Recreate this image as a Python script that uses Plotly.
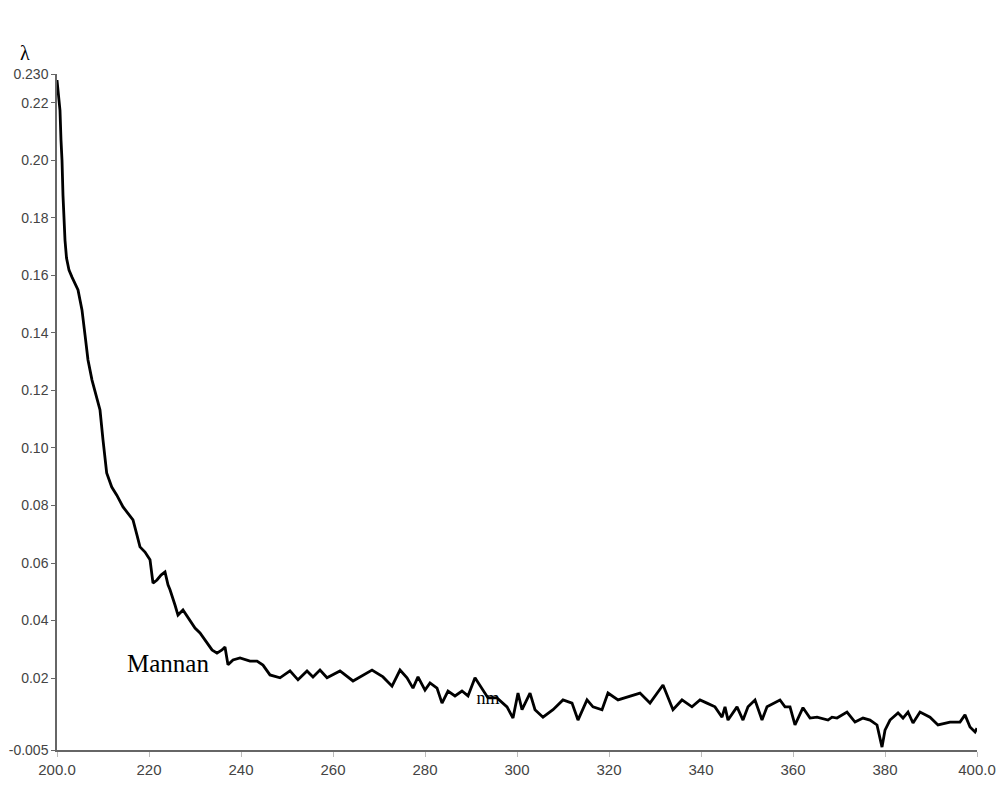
import plotly.graph_objects as go

# wavelength (nm)
wavelength = [
    200.0, 200.22, 200.43, 200.65, 200.87, 201.09, 201.30, 201.52, 201.74, 202.07,
    202.61, 203.26, 203.91, 204.57, 205.0, 205.43, 206.09, 206.74, 207.61, 208.48,
    209.35, 210.0, 210.8, 211.9, 213.0, 214.35, 215.43, 216.52, 217.39, 218.04,
    219.13, 220.22, 220.87, 221.74, 222.61, 223.48, 224.13, 224.57, 225.65, 226.30,
    227.39, 228.91, 230.0, 231.09, 232.61, 233.70, 234.78, 235.87, 236.52, 237.17,
    238.26, 239.78, 241.96, 243.48, 244.78, 246.30, 248.48, 250.65, 252.39, 254.35,
    255.65, 257.17, 258.70, 261.52, 264.35, 265.87, 268.48, 270.87, 272.83, 274.57,
    276.09, 277.39, 278.48, 280.0, 281.09, 282.61, 283.70, 285.0, 286.52, 288.04,
    289.35, 290.87, 292.39, 293.70, 295.65, 297.83, 299.13, 300.22, 301.09, 302.83,
    303.91, 305.65, 307.83, 310.0, 311.96, 313.26, 315.22, 316.52, 318.48, 319.78,
    321.96, 324.57, 326.74, 328.91, 331.74, 333.91, 335.87, 338.04, 339.78, 341.30,
    343.04, 344.57, 345.22, 345.87, 347.83, 349.13, 350.22, 351.74, 353.26, 354.35,
    357.17, 358.26, 359.35, 360.43, 362.17, 363.70, 365.22, 367.61, 368.48, 369.57,
    371.74, 373.48, 375.22, 376.74, 378.26, 379.35, 380.0, 381.09, 382.83, 383.91,
    385.0, 386.09, 387.61, 389.78, 391.52, 394.13, 396.30, 397.39, 398.48, 399.57,
    400.0,
]

# absorbance
absorbance = [
    0.2279, 0.2244, 0.2209, 0.2174, 0.2070, 0.2000, 0.1879, 0.1792, 0.1722, 0.1660,
    0.1618, 0.1594, 0.1573, 0.1549, 0.1514, 0.1480, 0.1393, 0.1306, 0.1236, 0.1184,
    0.1132, 0.1028, 0.0913, 0.0864, 0.0836, 0.0795, 0.0774, 0.0750, 0.0697, 0.0656,
    0.0638, 0.0611, 0.0530, 0.0541, 0.0558, 0.0569, 0.0524, 0.0507, 0.0454, 0.0419,
    0.0437, 0.0402, 0.0374, 0.0357, 0.0322, 0.0298, 0.0287, 0.0298, 0.0308, 0.0246,
    0.0263, 0.0270, 0.0259, 0.0259, 0.0245, 0.0211, 0.0201, 0.0225, 0.0194, 0.0225,
    0.0204, 0.0228, 0.0201, 0.0225, 0.0190, 0.0204, 0.0228, 0.0204, 0.0172, 0.0228,
    0.0201, 0.0165, 0.0204, 0.0158, 0.0183, 0.0165, 0.0113, 0.0155, 0.0138, 0.0155,
    0.0138, 0.0201, 0.0165, 0.0131, 0.0131, 0.0100, 0.0061, 0.0148, 0.0090, 0.0148,
    0.0090, 0.0064, 0.0090, 0.0124, 0.0113, 0.0054, 0.0124, 0.0100, 0.0090, 0.0148,
    0.0124, 0.0138, 0.0148, 0.0113, 0.0176, 0.0090, 0.0124, 0.0100, 0.0124, 0.0113,
    0.0100, 0.0064, 0.0100, 0.0054, 0.0100, 0.0054, 0.0100, 0.0124, 0.0054, 0.0100,
    0.0124, 0.0100, 0.0100, 0.0037, 0.0097, 0.0061, 0.0064, 0.0054, 0.0064, 0.0061,
    0.0082, 0.0047, 0.0061, 0.0054, 0.0037, -0.0040, 0.0019, 0.0054, 0.0079, 0.0061,
    0.0082, 0.0044, 0.0082, 0.0064, 0.0037, 0.0047, 0.0047, 0.0072, 0.0030, 0.0013,
    0.0026,
]

y_ticks = [-0.005, 0.02, 0.04, 0.06, 0.08, 0.10, 0.12, 0.14, 0.16, 0.18, 0.20, 0.22, 0.230]
y_labels = ['-0.005', '0.02', '0.04', '0.06', '0.08', '0.10', '0.12', '0.14',
            '0.16', '0.18', '0.20', '0.22', '0.230']
x_ticks = [200, 220, 240, 260, 280, 300, 320, 340, 360, 380, 400]
x_labels = ['200.0', '220', '240', '260', '280', '300', '320', '340', '360', '380', '400.0']

fig = go.Figure()

# "nm" sits under the curve in the original, so draw it first
fig.add_trace(go.Scatter(
    x=[293.7], y=[0.0124],
    mode='text',
    text=['nm'],
    textfont=dict(family='Liberation Serif', size=18, color='#000'),
    hoverinfo='skip',
    showlegend=False
))

fig.add_trace(go.Scatter(
    x=wavelength,
    y=absorbance,
    mode='lines',
    line=dict(color='#000', width=2.8),
    showlegend=False
))

fig.add_annotation(
    x=224.1, y=0.0249,
    text='Mannan',
    showarrow=False,
    font=dict(family='Liberation Serif', size=25, color='#000')
)

fig.add_annotation(
    x=-0.042, y=1.05,
    xref='paper', yref='paper',
    text='λ',
    showarrow=False,
    font=dict(family='Liberation Serif', size=20, color='#000')
)

fig.update_layout(
    width=1000,
    height=794,
    plot_bgcolor='#fff',
    paper_bgcolor='#fff',
    margin=dict(l=57, r=23, t=74, b=44),
    xaxis=dict(
        range=[200, 400],
        tickvals=x_ticks,
        ticktext=x_labels,
        automargin=False,
        showgrid=False,
        zeroline=False,
        showline=True,
        linecolor='#666',
        linewidth=1.5,
        ticks='outside',
        ticklen=5,
        tickcolor='#bbb',
        tickfont=dict(family='Liberation Sans', size=15, color='#444')
    ),
    yaxis=dict(
        range=[-0.005, 0.230],
        tickvals=y_ticks,
        ticktext=y_labels,
        automargin=False,
        showgrid=False,
        zeroline=False,
        showline=True,
        linecolor='#666',
        linewidth=1.5,
        ticks='outside',
        ticklen=4,
        tickcolor='#666',
        tickfont=dict(family='Liberation Sans', size=14, color='#444')
    )
)

# drop the browser's default 8px body margin so the figure sits at 0,0
fig.write_html("out.html", config={'displayModeBar': False},
               post_script="document.body.style.margin='0';")
